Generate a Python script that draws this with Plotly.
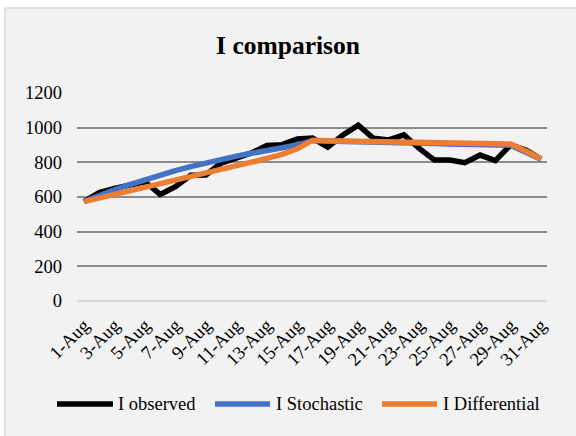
import plotly.graph_objects as go

days = [f"{d}-Aug" for d in range(1, 32)]
tick_labels = [f"{d}-Aug" for d in range(1, 32, 2)]
y_ticks = [0, 200, 400, 600, 800, 1000, 1200]

observed = [573, 625, 650, 669, 688, 615, 660, 725, 727, 796, 823, 854, 898, 902, 935,
            940, 887, 958, 1015, 939, 929, 958, 880, 813, 813, 798, 842, 810, 900, 871, 818]
stochastic = [573, 610, 642, 672, 700, 727, 752, 775, 797, 818, 836, 852, 866, 880, 900,
              925, 922, 920, 918, 916, 914, 912, 910, 908, 906, 904, 902, 900, 898, 858, 818]
differential = [573, 593, 613, 633, 653, 673, 694, 715, 736, 757, 779, 801, 823, 846, 878,
                928, 925, 923, 921, 919, 917, 915, 913, 912, 911, 910, 909, 908, 906, 865, 820]

series_names = ["I observed", "I Stochastic", "I Differential"]
series_colors = ["#000000", "#4472c4", "#ed7d31"]
series_values = [observed, stochastic, differential]

FONT = "Liberation Serif"
L, R, T, B = 77, 29, 93, 135
W, H = 576, 436
pw, ph = W - L - R, H - T - B


def px_x(p):
    return (p - L) / pw


def px_y(p):
    return (H - B - p) / ph


fig = go.Figure()
for name, color, vals in zip(series_names, series_colors, series_values):
    fig.add_trace(go.Scatter(x=days, y=vals, name=name, mode="lines",
                             line=dict(color=color, width=5.5), showlegend=False))

# chart area background + border
fig.add_shape(type="rect", xref="paper", yref="paper", layer="below",
              x0=px_x(5), x1=px_x(W + 5), y0=px_y(H + 5), y1=px_y(8),
              fillcolor="#f2f2f2", line=dict(color="#d9d9d9", width=1.5))

# custom legend (Excel-style long line keys)
legend_keys = [(57, 113, 116), (215, 270, 274), (382, 437, 441)]
leg_y = 404
for (x0, x1, xt), name, color in zip(legend_keys, series_names, series_colors):
    fig.add_shape(type="line", xref="paper", yref="paper",
                  x0=px_x(x0), x1=px_x(x1), y0=px_y(leg_y), y1=px_y(leg_y),
                  line=dict(color=color, width=5.5))
    fig.add_annotation(xref="paper", yref="paper", x=px_x(xt), y=px_y(leg_y),
                       xanchor="left", yanchor="middle", text=name, showarrow=False,
                       font=dict(family=FONT, size=18.5, color="#000000"))

fig.update_layout(
    width=W, height=H,
    margin=dict(l=L, r=R, t=T, b=B),
    paper_bgcolor="#ffffff",
    plot_bgcolor="rgba(0,0,0,0)",
    font=dict(family=FONT, color="#000000", size=18),
    title=dict(text="<b>I comparison</b>", x=0.5, xanchor="center", xref="container",
               y=1 - 45 / H, yanchor="middle", yref="container",
               font=dict(family=FONT, size=25.5, color="#000000")),
    showlegend=False,
    xaxis=dict(type="category", range=[-0.46, 30.39], tickmode="array",
               tickvals=tick_labels, ticktext=tick_labels, tickangle=-45,
               showgrid=False, zeroline=False, showline=False, ticks="",
               ticklabelstandoff=9, tickfont=dict(family=FONT, size=18.5)),
    yaxis=dict(range=[0, 1200], tickvals=y_ticks, showgrid=True,
               gridcolor="#8c8c8c", gridwidth=1.5, zeroline=True,
               zerolinecolor="#d9d9d9", zerolinewidth=2, showline=False,
               ticks="", ticklabelstandoff=14, tickfont=dict(family=FONT, size=18.5)),
)

fig.write_html("out.html")
